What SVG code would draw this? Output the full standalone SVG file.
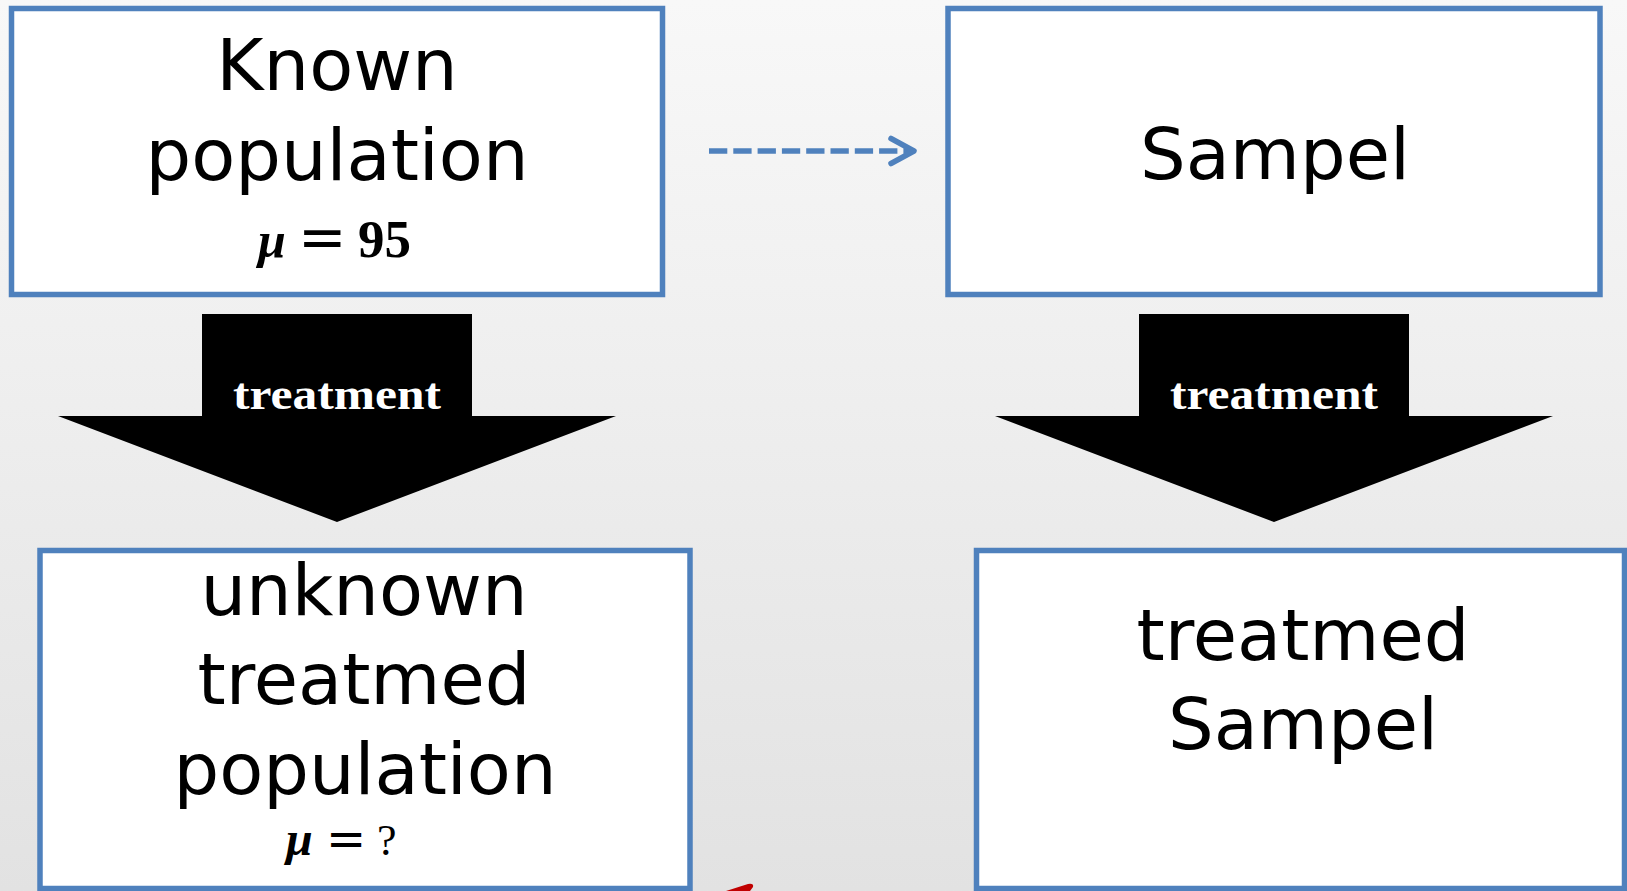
<svg xmlns="http://www.w3.org/2000/svg" width="1627" height="891" viewBox="0 0 1627 891">
<defs>
<linearGradient id="bg" x1="0" y1="0" x2="0" y2="1">
<stop offset="0" stop-color="#f8f8f8"/>
<stop offset="1" stop-color="#e2e2e2"/>
</linearGradient>
<style>
.box{fill:#ffffff;stroke:#4F81BD;stroke-width:5.5}
.big{font-family:"DejaVu Sans",sans-serif;font-size:72px;fill:#000;text-anchor:middle}
.lbl{font-family:"Liberation Serif",serif;font-weight:bold;font-size:44px;fill:#ffffff;text-anchor:middle}
.math{font-family:"Liberation Serif",serif;font-size:44px;fill:#000}
.mu{font-style:italic;font-weight:bold}
.eq{font-family:"DejaVu Sans",sans-serif}
.arrow{fill:#000000}
.dash{fill:none;stroke:#4F81BD;stroke-width:5.5}
</style>
</defs>
<rect x="0" y="0" width="1627" height="891" fill="url(#bg)"/>

<g id="known-population">
<rect class="box" x="11.5" y="8.5" width="651" height="286"/>
<text class="big" x="337" y="90">Known</text>
<text class="big" x="337" y="180">population</text>
<text class="math" y="257"><tspan class="mu" x="258" font-size="50px">μ</tspan><tspan class="eq" x="298" font-size="58px">=</tspan><tspan x="358" font-weight="bold" font-size="53px">95</tspan></text>
</g>

<g id="sampel">
<rect class="box" x="948" y="8.5" width="652" height="286"/>
<text class="big" x="1275" y="179">Sampel</text>
</g>

<g id="unknown-treated-population">
<rect class="box" x="40" y="550.5" width="650" height="338"/>
<text class="big" x="364" y="615">unknown</text>
<text class="big" x="364" y="704">treatmed</text>
<text class="big" x="365" y="794">population</text>
<text class="math" y="855"><tspan class="mu" x="286" font-size="48px">μ</tspan><tspan class="eq" x="326" font-size="48px">=</tspan><tspan x="377">?</tspan></text>
</g>

<g id="treated-sampel">
<rect class="box" x="976.5" y="550.5" width="648" height="338"/>
<text class="big" x="1303" y="660">treatmed</text>
<text class="big" x="1303" y="749">Sampel</text>
</g>

<g id="connectors">
<g id="treatment-left">
<polygon class="arrow" points="202,314 472,314 472,416 616,416 337,522 58,416 202,416"/>
<text class="lbl" x="337" y="409" textLength="208" lengthAdjust="spacingAndGlyphs">treatment</text>
</g>
<g id="treatment-right">
<polygon class="arrow" points="1139,314 1409,314 1409,416 1553,416 1274,522 995,416 1139,416"/>
<text class="lbl" x="1274" y="409" textLength="208" lengthAdjust="spacingAndGlyphs">treatment</text>
</g>
<g id="dashed-arrow">
<line class="dash" x1="709" y1="151" x2="912" y2="151" stroke-dasharray="18.3 6"/>
<path class="dash" d="M891,138.5 L914,151 L891,163.5" stroke-linecap="round" stroke-linejoin="round"/>
</g>
</g>

<path d="M726,891 L748,884 Q754,883 753,887 L750,891 Z" fill="#C00000"/>
</svg>
